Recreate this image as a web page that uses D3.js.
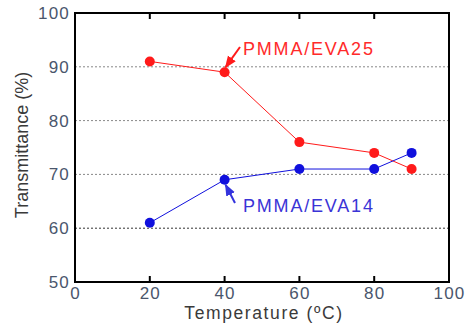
<!DOCTYPE html>
<html>
<head>
<meta charset="utf-8">
<script src="https://cdn.jsdelivr.net/npm/d3@7/dist/d3.min.js"></script>
<style>
  body { margin: 0; background: #fff; }
  text { font-family: "Liberation Sans", Arial, sans-serif; }
</style>
</head>
<body>
<div id="container"></div>
<script>
// Chart data
const temps = [20, 40, 60, 80, 90];
const eva25 = [91, 89, 76, 74, 71];
const eva14 = [61, 69, 71, 71, 74];
const xTicks = [0, 20, 40, 60, 80, 100];
const yTicks = [50, 60, 70, 80, 90, 100];
const gridValues = [60, 70, 80, 90];

const width = 466;
const height = 323;
const marginTop = 13;
const marginRight = 17;
const marginBottom = 41;
const marginLeft = 75;

const x = d3.scaleLinear()
    .domain([0, 100])
    .range([marginLeft, width - marginRight]);

const y = d3.scaleLinear()
    .domain([50, 100])
    .range([height - marginBottom, marginTop]);

const svg = d3.create("svg")
    .attr("width", width)
    .attr("height", height);

// dotted gridlines
svg.append("g")
  .selectAll("line")
  .data(gridValues)
  .join("line")
    .attr("x1", x(0))
    .attr("x2", x(100))
    .attr("y1", d => y(d))
    .attr("y2", d => y(d))
    .attr("stroke", d => d === 60 ? "#333" : "#888")
    .attr("stroke-width", 1)
    .attr("stroke-dasharray", "2,2");

// bottom axis
svg.append("g")
    .attr("transform", `translate(0,${y(50)})`)
    .call(d3.axisBottom(x).tickValues(xTicks).tickSize(0).tickPadding(5))
    .call(g => g.select(".domain").remove())
    .call(g => g.selectAll("text")
        .attr("font-size", 17)
        .attr("letter-spacing", 1.2)
        .attr("fill", "#4a566c")
        .attr("font-family", "Liberation Sans, Arial, sans-serif"));

// left axis
svg.append("g")
    .attr("transform", `translate(${x(0)},0)`)
    .call(d3.axisLeft(y).tickValues(yTicks).tickSize(0).tickPadding(5))
    .call(g => g.select(".domain").remove())
    .call(g => g.selectAll("text")
        .attr("font-size", 17)
        .attr("letter-spacing", 1.2)
        .attr("fill", "#4a566c")
        .attr("font-family", "Liberation Sans, Arial, sans-serif"));

// inward ticks on top and bottom
const innerTicks = [20, 40, 60, 80];
svg.append("g")
  .selectAll("line")
  .data(innerTicks)
  .join("line")
    .attr("x1", d => x(d)).attr("x2", d => x(d))
    .attr("y1", y(50)).attr("y2", y(50) - 6)
    .attr("stroke", "#000").attr("stroke-width", 2);
svg.append("g")
  .selectAll("line")
  .data(innerTicks)
  .join("line")
    .attr("x1", d => x(d)).attr("x2", d => x(d))
    .attr("y1", y(100)).attr("y2", y(100) + 6)
    .attr("stroke", "#000").attr("stroke-width", 2);

// frame
svg.append("rect")
    .attr("x", x(0))
    .attr("y", y(100))
    .attr("width", x(100) - x(0))
    .attr("height", y(50) - y(100))
    .attr("fill", "none")
    .attr("stroke", "#000")
    .attr("stroke-width", 2);

// series
const series = [
  {values: eva25, color: "#ff1a1a"},
  {values: eva14, color: "#1010dd"}
];

for (const s of series) {
  const pts = temps.map((t, i) => [t, s.values[i]]);
  svg.append("path")
      .attr("fill", "none")
      .attr("stroke", s.color)
      .attr("stroke-width", 1)
      .attr("d", d3.line().x(d => x(d[0])).y(d => y(d[1]))(pts));
  svg.append("g")
    .selectAll("circle")
    .data(pts)
    .join("circle")
      .attr("cx", d => x(d[0]))
      .attr("cy", d => y(d[1]))
      .attr("r", 5)
      .attr("fill", s.color);
}

// annotation arrows
svg.append("defs").selectAll("marker")
  .data([["arRed", "#ff1a1a"], ["arBlue", "#3333dd"]])
  .join("marker")
    .attr("id", d => d[0])
    .attr("viewBox", "0 0 10 10")
    .attr("refX", 9).attr("refY", 5)
    .attr("markerWidth", 6).attr("markerHeight", 6)
    .attr("orient", "auto")
  .append("path")
    .attr("d", "M0,1L10,5L0,9z")
    .attr("fill", d => d[1]);

svg.append("line")
    .attr("x1", 240).attr("y1", 47)
    .attr("x2", x(40) + 1).attr("y2", y(89) - 5)
    .attr("stroke", "#ff1a1a").attr("stroke-width", 2)
    .attr("marker-end", "url(#arRed)");
svg.append("text")
    .attr("x", 243).attr("y", 55)
    .attr("font-size", 18)
    .attr("letter-spacing", 1.8)
    .attr("fill", "#ff2a2a")
    .text("PMMA/EVA25");

svg.append("line")
    .attr("x1", 235).attr("y1", 203)
    .attr("x2", x(40) + 1).attr("y2", y(69) + 5)
    .attr("stroke", "#3333dd").attr("stroke-width", 2)
    .attr("marker-end", "url(#arBlue)");
svg.append("text")
    .attr("x", 243).attr("y", 212)
    .attr("font-size", 18)
    .attr("letter-spacing", 1.8)
    .attr("fill", "#3a34d6")
    .text("PMMA/EVA14");

// axis titles
svg.append("text")
    .attr("text-anchor", "middle")
    .attr("x", 264)
    .attr("y", 319)
    .attr("font-size", 17.5)
    .attr("letter-spacing", 1.6)
    .attr("fill", "#3a3a3a")
    .text("Temperature (ºC)");

svg.append("text")
    .attr("text-anchor", "middle")
    .attr("transform", "rotate(-90)")
    .attr("x", -145)
    .attr("y", 28)
    .attr("font-size", 18)
    .attr("fill", "#3a3a3a")
    .text("Transmittance (%)");

container.append(svg.node());
</script>
</body>
</html>
